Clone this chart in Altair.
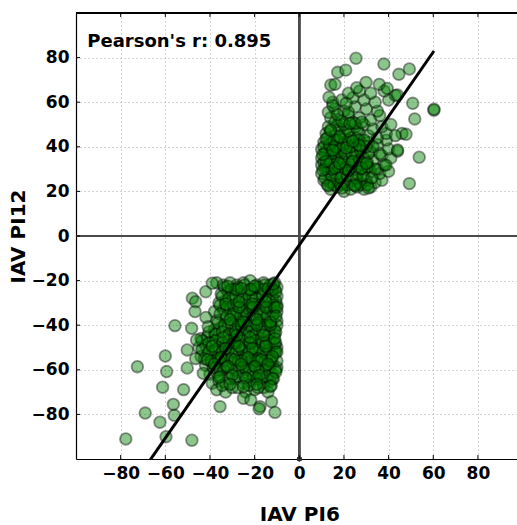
import altair as alt
import pandas as pd

# ---- data (IAV PI6 vs IAV PI12) ----
low_x = [
    -37, -34, -31, -28, -25, -22, -19, -16, -13, -11,
    -35, -32, -29, -26, -23, -20, -17, -14, -11, -10,
    -36, -33, -30, -27, -24, -21, -18, -15, -12, -10,
    -38, -34, -31, -28, -25, -22, -19, -16, -13, -10,
    -37, -33, -30, -27, -24, -21, -18, -15, -12, -10,
    -38, -35, -32, -29, -26, -23, -20, -17, -14, -11,
    -44, -41, -38, -35, -32, -29, -26, -23, -20, -17, -14, -11,
    -45, -42, -39, -36, -33, -30, -27, -24, -21, -18, -15, -12, -10,
    -44, -41, -38, -35, -32, -29, -26, -23, -20, -17, -14, -11,
    -42, -39, -36, -33, -30, -27, -24, -21, -18, -15, -12, -10,
    -40, -37, -34, -30, -27, -24, -21, -18, -15, -12,
    -39, -36, -33, -29, -25, -22, -19, -16, -13,
    -37, -33, -30, -24, -20, -16, -14,
]
low_y = [
    -21, -22, -21, -22, -21, -20, -22, -21, -22, -21,
    -26, -25, -24, -26, -25, -24, -26, -25, -24, -27,
    -30, -29, -28, -30, -29, -28, -30, -29, -28, -31,
    -34, -33, -32, -34, -33, -32, -34, -33, -32, -34,
    -38, -37, -36, -38, -37, -36, -38, -37, -36, -38,
    -42, -41, -40, -42, -41, -40, -42, -41, -40, -42,
    -46, -45, -44, -46, -45, -44, -46, -45, -44, -46, -45, -44,
    -50, -49, -48, -50, -49, -48, -50, -49, -48, -50, -49, -48, -50,
    -54, -53, -52, -54, -53, -52, -54, -53, -52, -54, -53, -52,
    -58, -57, -56, -58, -57, -56, -58, -57, -56, -58, -57, -59,
    -62, -61, -60, -62, -61, -60, -62, -61, -60, -62,
    -66, -65, -66, -64, -66, -65, -64, -66, -65,
    -69, -70, -68, -70, -69, -68, -70,
]
low_x2 = [
    -33.5, -30.5, -27.5, -24.5, -21.5, -18.5, -15.5, -12.5, -10,
    -34.5, -31.5, -28.5, -25.5, -22.5, -19.5, -16.5, -13.5, -10.5,
    -35.5, -32.5, -29.5, -26.5, -23.5, -20.5, -17.5, -14.5, -11.5,
    -35.5, -32.5, -29.5, -26.5, -23.5, -20.5, -17.5, -14.5, -11.5,
    -36.5, -33.5, -30.5, -27.5, -24.5, -21.5, -18.5, -15.5, -12.5, -10,
    -40.5, -37.5, -34.5, -31.5, -28.5, -25.5, -22.5, -19.5, -16.5, -13.5, -10.5,
    -43.5, -40.5, -37.5, -34.5, -31.5, -28.5, -25.5, -22.5, -19.5, -16.5, -13.5, -10.5,
    -43.5, -40.5, -37.5, -34.5, -31.5, -28.5, -25.5, -22.5, -19.5, -16.5, -13.5, -10.5,
    -42.5, -39.5, -36.5, -33.5, -30.5, -27.5, -24.5, -21.5, -18.5, -15.5, -12.5, -10,
    -38.5, -35.5, -32.5, -28.5, -25.5, -22.5, -19.5, -16.5, -13.5, -10.5,
    -35.5, -31.5, -27.5, -23.5, -20.5, -17.5, -14.5, -11.5,
    -34.5, -27.5, -22.5, -18.5, -12.5,
    -28, -22, -16, -12, -27, -21, -15, -11, -26, -19, -13,
    -29, -22, -15, -11, -26, -19, -13,
]
low_y2 = [
    -23, -24, -23, -22, -24, -23, -22, -24, -23,
    -27, -28, -27, -28, -27, -28, -27, -28, -29,
    -31, -32, -31, -32, -31, -32, -31, -32, -31,
    -35, -36, -35, -36, -35, -36, -35, -36, -35,
    -39, -40, -39, -40, -39, -40, -39, -40, -39, -40,
    -43, -44, -43, -44, -43, -44, -43, -44, -43, -44, -43,
    -47, -48, -47, -48, -47, -48, -47, -48, -47, -48, -47, -48,
    -51, -52, -51, -52, -51, -52, -51, -52, -51, -52, -51, -52,
    -55, -56, -55, -56, -55, -56, -55, -56, -55, -56, -55, -56,
    -59, -60, -59, -60, -59, -60, -59, -60, -59, -60,
    -63, -64, -63, -64, -63, -64, -63, -64,
    -67, -68, -67, -68, -67,
    -24, -24, -24, -24, -32, -32, -32, -32, -40, -40, -40,
    -48, -48, -48, -48, -56, -56, -56,
]
low_x3 = [
    -32, -26, -20, -14, -10.5,
    -33, -27, -21, -15, -10,
    -31, -25, -19, -13, -10.5,
    -34, -28, -22, -16, -11,
    -39, -33, -27, -21, -15, -10,
    -41, -35, -29, -23, -17, -12,
    -38, -32, -26, -20, -14, -10.5,
    -36, -30, -24, -18, -12,
    -31, -25, -19, -13,
]
low_y3 = [
    -22.5, -23.5, -22.5, -23.5, -25,
    -30.5, -29.5, -30.5, -29.5, -32,
    -37.5, -38.5, -37.5, -38.5, -36,
    -45.5, -44.5, -45.5, -44.5, -46,
    -49.5, -50.5, -49.5, -50.5, -49.5, -52,
    -55.5, -54.5, -55.5, -54.5, -55.5, -54,
    -57.5, -58.5, -57.5, -58.5, -57.5, -61,
    -63.5, -62.5, -63.5, -62.5, -64,
    -66.5, -67.5, -66.5, -67.5,
]
low_out_x = [-77.7, -72.5, -69.0, -62.4, -60.0, -59.4, -61.2, -56.4, -56.0, -59.7,
             -55.7, -51.8, -50.2, -50.2, -48.1, -48.2, -47.9, -46.4, -46.7, -41.9,
             -39.0, -41.8, -43.0, -35.5, -40.8, -46.0, -46.4, -12.4, -10.9, -17.6,
             -18.0, -25.0, -21.7, -11.6]
low_out_y = [-91.0, -58.6, -79.4, -83.5, -53.8, -60.8, -67.8, -75.5, -80.4, -90.0,
             -40.2, -68.9, -51.1, -59.2, -91.6, -41.4, -27.9, -29.5, -33.9, -25.0,
             -21.2, -36.5, -61.6, -76.5, -40.7, -46.6, -55.0, -74.3, -79.1, -76.5,
             -77.5, -72.8, -73.5, -21.5]

up_x = [
    14, 17, 20, 23, 26, 29, 32,
    11, 14, 17, 20, 24, 27, 30, 34, 37,
    10, 13, 16, 19, 22, 26, 29, 32, 36, 40,
    10, 12, 15, 18, 21, 25, 28, 31, 35, 38,
    10, 13, 16, 19, 22, 26, 29, 33, 37, 41,
    10, 12, 15, 18, 21, 25, 28, 32, 36, 40, 44,
    11, 14, 17, 20, 24, 27, 31, 35, 39, 46,
    12, 16, 20, 23, 27, 31, 35, 39, 43,
    13, 17, 21, 25, 29, 33, 37, 41,
    14, 18, 22, 27, 32, 36,
    16, 20, 25, 30, 35,
    15, 19, 24, 29, 34, 40,
    22, 27, 32, 38, 43,
]
up_y = [
    21, 22, 20, 21, 22, 21, 22,
    25, 24, 25, 24, 25, 24, 25, 24, 25,
    28, 29, 28, 27, 29, 28, 27, 29, 28, 29,
    32, 31, 30, 32, 31, 30, 32, 31, 30, 32,
    35, 34, 36, 35, 34, 36, 35, 34, 36, 35,
    39, 38, 37, 39, 38, 37, 39, 38, 37, 39, 38,
    42, 41, 43, 42, 41, 43, 42, 41, 43, 46,
    46, 45, 46, 44, 46, 45, 44, 46, 45,
    49, 50, 48, 49, 50, 48, 49, 50,
    53, 52, 54, 53, 52, 54,
    57, 56, 58, 57, 56,
    60, 61, 62, 61, 60, 61,
    64, 65, 64, 65, 63,
]
up_x2 = [
    12.5, 15.5, 18.5, 21.5, 24.5, 27.5, 30.5,
    11.5, 14.5, 18.5, 21.5, 25.5, 28.5, 32.5,
    11.5, 14.5, 17.5, 20.5, 23.5, 27.5, 30.5, 34,
    11, 14, 17, 20, 23.5, 27, 30.5,
    11.5, 14.5, 17.5, 20.5, 23.5, 27.5, 31,
    11, 13.5, 16.5, 19.5, 23, 26.5, 30,
    12.5, 15.5, 18.5, 22, 25.5, 29,
    14, 18, 22, 26,
    16, 20, 24,
]
up_y2 = [
    23, 23, 23, 23, 23, 23, 23,
    26, 27, 26, 27, 26, 27, 26,
    30, 30, 31, 30, 31, 30, 31, 30,
    33, 33, 34, 33, 33, 34, 33,
    37, 37, 38, 37, 37, 38, 37,
    40, 41, 40, 41, 40, 41, 40,
    44, 43, 44, 43, 44, 43,
    47, 48, 47, 48,
    51, 50, 51,
]
up_x3 = [
    13, 19, 25, 31,
    10.5, 16, 22, 28,
    12, 18, 24, 30,
    10.5, 15, 21, 27,
    12, 18, 24, 33,
    14, 19, 25,
    13, 17, 22, 28,
    15, 21,
]
up_y3 = [
    22.5, 21.5, 22.5, 21.5,
    29.5, 30.5, 29.5, 30.5,
    33.5, 32.5, 33.5, 32.5,
    36.5, 38.5, 39.5, 40.5,
    43.5, 44.5, 42.5, 40,
    47.5, 51.5, 50.5,
    55.5, 54.5, 55.5, 51,
    58.5, 59.5,
]
up_out_x = [25.4, 37.9, 49.3, 44.6, 17.2, 20.8, 14.1, 16.0, 13.3, 50.8,
            60.3, 60.3, 51.7, 47.8, 53.7, 49.3, 25.7, 29.9, 35.8, 39.4,
            43.9, 22.7, 44.0, 38.8]
up_out_y = [79.7, 77.1, 74.9, 72.5, 73.4, 74.4, 67.7, 68.0, 62.2, 59.5,
            56.4, 56.8, 52.5, 45.6, 35.3, 23.5, 66.5, 68.9, 68.0, 66.2,
            63.2, 50.5, 38.6, 31.8]

tick_values = [-80, -60, -40, -20, 0, 20, 40, 60, 80]
fit_slope = 1.443
fit_intercept = -4.05
pearson_label = "Pearson's r: 0.895"

# ---- tables ----
pts = pd.DataFrame({
    "PI6": low_x + low_x2 + low_x3 + low_out_x + up_x + up_x2 + up_x3 + up_out_x,
    "PI12": low_y + low_y2 + low_y3 + low_out_y + up_y + up_y2 + up_y3 + up_out_y,
})
x_lo, x_hi = float(pts["PI6"].min()), float(pts["PI6"].max())
fit = pd.DataFrame({
    "PI6": [x_lo, x_hi],
    "PI12": [fit_slope * x_lo + fit_intercept, fit_slope * x_hi + fit_intercept],
})
ticks_df = pd.DataFrame({"t": tick_values})

W, H = 441, 446
FONT = "DejaVu Sans"
xs = alt.Scale(domain=[-100, 97.5], nice=False, zero=False)
ys = alt.Scale(domain=[-100, 100], nice=False, zero=False)

x_axis = alt.Axis(
    values=tick_values, format="d", grid=True, gridDash=[1, 3], gridColor="#a8a8a8",
    gridWidth=1, domainColor="black", domainWidth=1.2, ticks=False,
    labelFont=FONT, labelFontWeight="bold", labelFontSize=17, labelColor="black",
    labelPadding=6, labelFlush=False, labelOverlap=False,
    title="IAV PI6", titleFont=FONT, titleFontWeight="bold", titleFontSize=20,
    titleColor="black", titleX=223.3, titleY=61, titleBaseline="alphabetic",
    titleAlign="center",
)
y_axis = alt.Axis(
    values=tick_values, format="d", grid=True, gridDash=[1, 3], gridColor="#a8a8a8",
    gridWidth=1, domainColor="black", domainWidth=1.2, ticks=False,
    labelFont=FONT, labelFontWeight="bold", labelFontSize=17, labelColor="black",
    labelPadding=7, labelFlush=False, labelOverlap=False,
    title="IAV PI12", titleFont=FONT, titleFontWeight="bold", titleFontSize=20,
    titleColor="black", titleX=-52, titleY=223, titleBaseline="alphabetic",
    titleAlign="center", titleAngle=270,
)

base_axes = alt.Chart(ticks_df).mark_rule(opacity=0).encode(
    x=alt.X("t:Q", scale=xs, axis=x_axis),
    y=alt.Y("t:Q", scale=ys, axis=y_axis),
)

zero_v = alt.Chart(ticks_df).mark_rule(color="#4a4a4a", strokeWidth=1.8).encode(
    x=alt.datum(0, scale=xs)
)
zero_h = alt.Chart(ticks_df).mark_rule(color="#4a4a4a", strokeWidth=1.8).encode(
    y=alt.datum(0, scale=ys)
)
zero_dot = alt.Chart(ticks_df).mark_circle(color="#333333", opacity=1, size=22).encode(
    x=alt.datum(0, scale=xs), y=alt.datum(-100, scale=ys)
)

points = alt.Chart(pts).mark_circle(
    size=135, fill="#008000", fillOpacity=0.45, stroke="black",
    strokeOpacity=0.42, strokeWidth=1.8,
).encode(
    x=alt.X("PI6:Q", scale=xs),
    y=alt.Y("PI12:Q", scale=ys),
)

fit_line = alt.Chart(fit).mark_line(color="black", strokeWidth=3, clip=True).encode(
    x=alt.X("PI6:Q", scale=xs),
    y=alt.Y("PI12:Q", scale=ys),
)

top_spine = alt.Chart(ticks_df).mark_rule(color="black", strokeWidth=1.2).encode(
    x=alt.value(0), x2=alt.value(W), y=alt.value(0)
)
bottom_ticks = alt.Chart(ticks_df).mark_rule(color="black", strokeWidth=1).encode(
    x=alt.X("t:Q", scale=xs), y=alt.value(H), y2=alt.value(H - 4)
)
top_ticks = alt.Chart(ticks_df).mark_rule(color="black", strokeWidth=1).encode(
    x=alt.X("t:Q", scale=xs), y=alt.value(0), y2=alt.value(4)
)
left_ticks = alt.Chart(ticks_df).mark_rule(color="black", strokeWidth=1).encode(
    y=alt.Y("t:Q", scale=ys), x=alt.value(0), x2=alt.value(4)
)

label = alt.Chart(pd.DataFrame({"txt": [pearson_label]})).mark_text(
    align="left", baseline="alphabetic", font=FONT, fontWeight="bold",
    fontSize=18, color="black",
).encode(x=alt.value(11.3), y=alt.value(33.7), text="txt:N")

chart = alt.layer(
    base_axes, zero_v, zero_h, points, fit_line, zero_dot,
    top_spine, bottom_ticks, top_ticks, left_ticks, label,
).properties(
    width=W, height=H,
    autosize=alt.AutoSizeParams(type="none"),
    padding={"left": 76, "top": 13, "right": 0, "bottom": 66},
    background="white",
).configure_view(stroke=None)

chart.save("out.html", embed_options={"renderer": "svg", "actions": False})
